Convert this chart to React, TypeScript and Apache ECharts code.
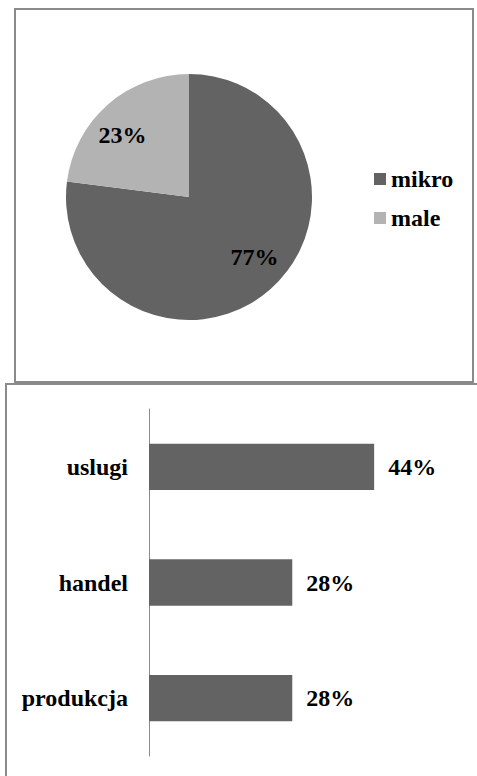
import React, { useEffect, useRef } from "react";
import * as echarts from "echarts";

const pieNames = ["mikro", "male"];
const pieValues = [77, 23];
const pieColors = ["#636363", "#b3b3b3"];
const pieLabelOffsets = [[5, -9], [-6, 7]];

const barCategories = ["produkcja", "handel", "uslugi"];
const barValues = [28, 28, 44];

const FONT = "Times New Roman, Liberation Serif, DejaVu Serif, serif";
const FS = 24;

export default function App() {
  const ref = useRef<HTMLDivElement>(null);
  useEffect(() => {
    if (!ref.current) return;
    const chart = echarts.init(ref.current, null, { renderer: "svg" });
    const pieData = pieNames.map((n, i) => ({ name: n, value: pieValues[i], itemStyle: { color: pieColors[i] } }));
    chart.setOption({
      animation: false,
      backgroundColor: "#ffffff",
      graphic: [
        { type: "rect", shape: { x: 15, y: 9, width: 458, height: 373 }, style: { fill: "none", stroke: "#8a8a8a", lineWidth: 2 }, z: 100 },
        { type: "rect", shape: { x: 6, y: 384, width: 480, height: 400 }, style: { fill: "none", stroke: "#8a8a8a", lineWidth: 2 }, z: 100 },
      ],
      legend: {
        data: pieNames,
        orient: "vertical",
        left: 374,
        top: 167,
        padding: 0,
        itemWidth: 12,
        itemHeight: 12,
        itemGap: 15,
        icon: "rect",
        textStyle: { fontFamily: FONT, fontWeight: "bold", fontSize: FS, color: "#000" },
      },
      grid: { left: 149, top: 409, width: 307, height: 347, containLabel: false },
      xAxis: { type: "value", min: 0, max: 60, show: false },
      yAxis: {
        type: "category",
        data: barCategories,
        axisLine: { show: true, lineStyle: { color: "#8c8c8c", width: 1 } },
        axisTick: { show: false },
        axisLabel: { margin: 21, fontFamily: FONT, fontWeight: "bold", fontSize: FS, color: "#000" },
      },
      series: [
        {
          type: "pie",
          center: [189, 197],
          radius: 123,
          startAngle: 90,
          clockwise: true,
          data: pieData,
          label: { show: false },
          labelLine: { show: false },
          silent: true,
        },
        {
          type: "pie",
          center: [189, 197],
          radius: [54, 123],
          startAngle: 90,
          clockwise: true,
          data: pieNames.map((n, i) => ({
            name: n + "_l",
            value: pieValues[i],
            itemStyle: { color: "rgba(0,0,0,0)" },
            label: { offset: pieLabelOffsets[i] },
          })),
          label: {
            show: true,
            position: "inside",
            formatter: "{c}%",
            fontFamily: FONT,
            fontWeight: "bold",
            fontSize: FS,
            color: "#000",
          },
          labelLine: { show: false },
          silent: true,
          emphasis: { disabled: true },
        },
        {
          type: "bar",
          data: barValues,
          barWidth: "40%",
          itemStyle: { color: "#636363" },
          label: {
            show: true,
            position: "right",
            distance: 14,
            formatter: "{c}%",
            fontFamily: FONT,
            fontWeight: "bold",
            fontSize: FS,
            color: "#000",
          },
          silent: true,
        },
      ],
    });
    return () => chart.dispose();
  }, []);
  return <div ref={ref} style={{ position: "absolute", left: 0, top: 0, width: 477, height: 776 }} />;
}
